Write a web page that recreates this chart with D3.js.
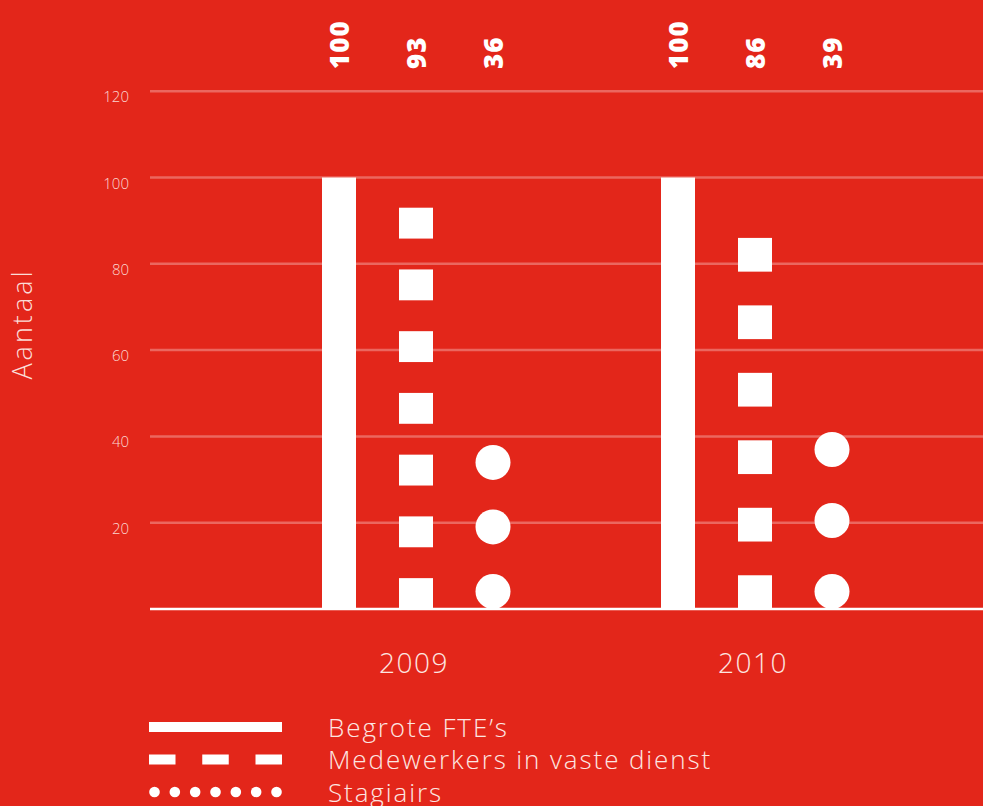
<!DOCTYPE html>
<html>
<head>
<meta charset="utf-8">
<script src="https://cdn.jsdelivr.net/npm/d3@7"></script>
<style>
  html, body { margin: 0; padding: 0; background: #e3261a; }
  svg { display: block; font-family: "Open Sans", Lato, sans-serif; }
</style>
</head>
<body>
<svg id="chart" width="983" height="806"></svg>
<script>
// data
const years = ["2009", "2010"];
const seriesNames = ["Begrote FTE’s", "Medewerkers in vaste dienst", "Stagiairs"];
const begroteFte = [100, 100];
const vasteDienst = [93, 86];
const stagiairs = [36, 39];
const yTicks = [20, 40, 60, 80, 100, 120];

const W = 983, H = 806;
const red = "#e3261a";
const svg = d3.select("#chart");

svg.append("rect").attr("width", W).attr("height", H).attr("fill", red);

const y = d3.scaleLinear().domain([0, 120]).range([609, 91.2]);
const x0 = d3.scaleBand().domain(years).range([246.5, 924.5]);
const x1 = d3.scalePoint().domain(seriesNames).range([-77, 77]);
const cx = (yr, s) => x0(yr) + x0.bandwidth() / 2 + x1(s);

// gridlines + tick labels
const grid = svg.append("g");
grid.selectAll("line")
  .data(yTicks)
  .join("line")
  .attr("x1", 150).attr("x2", W)
  .attr("y1", d => y(d)).attr("y2", d => y(d))
  .attr("stroke", "#ffffff").attr("stroke-opacity", 0.3)
  .attr("stroke-width", 2.5);

grid.selectAll("text")
  .data(yTicks)
  .join("text")
  .attr("x", 129)
  .attr("y", d => y(d) + 11)
  .attr("text-anchor", "end")
  .attr("fill", "#fbd6d0")
  .attr("font-size", 15)
  .attr("font-weight", 300)
  .text(d => d);

// axis title
svg.append("text")
  .attr("transform", "translate(32,324) rotate(-90)")
  .attr("text-anchor", "middle")
  .attr("fill", "#fbdcd7")
  .attr("font-size", 27)
  .attr("font-weight", 300)
  .attr("letter-spacing", 3)
  .text("Aantaal");

const rows = years.map((yr, i) => ({
  year: yr, fte: begroteFte[i], vast: vasteDienst[i], stag: stagiairs[i]
}));

const groups = svg.selectAll("g.year")
  .data(rows)
  .join("g")
  .attr("class", "year");

// solid bar
const barW = 34;
groups.append("rect")
  .attr("x", d => cx(d.year, seriesNames[0]) - barW / 2)
  .attr("y", d => y(d.fte))
  .attr("width", barW)
  .attr("height", d => y(0) - y(d.fte))
  .attr("fill", "#fff");

// squares: dash = gap, fitted into the bar height
groups.each(function(d) {
  const len = y(0) - y(d.vast);
  const n = Math.round((len / 31 + 1) / 2);
  const seg = len / (2 * n - 1);
  d3.select(this).selectAll("rect.sq")
    .data(d3.range(n))
    .join("rect")
    .attr("class", "sq")
    .attr("x", cx(d.year, seriesNames[1]) - barW / 2)
    .attr("y", i => y(0) - i * 2 * seg - seg)
    .attr("width", barW)
    .attr("height", seg)
    .attr("fill", "#fff");
});

// dots
const r = 17.5;
groups.each(function(d) {
  const len = y(0) - y(d.stag);
  const n = Math.max(1, Math.round(len / 55));
  const bottom = y(0) - r;
  const top = y(d.stag) + r / 2;
  const step = n > 1 ? (bottom - top) / (n - 1) : 0;
  d3.select(this).selectAll("circle")
    .data(d3.range(n))
    .join("circle")
    .attr("cx", cx(d.year, seriesNames[2]))
    .attr("cy", i => bottom - i * step)
    .attr("r", r)
    .attr("fill", "#fff");
});

// value labels on top
groups.each(function(d) {
  const vals = [d.fte, d.vast, d.stag];
  d3.select(this).selectAll("text.val")
    .data(vals)
    .join("text")
    .attr("class", "val")
    .attr("transform", (v, i) => `translate(${cx(d.year, seriesNames[i]) + 9.5},69) rotate(-90)`)
    .attr("fill", "#fff")
    .attr("font-size", 26)
    .attr("font-weight", 800)
    .attr("letter-spacing", 1)
    .text(v => v);
});

// baseline
svg.append("line")
  .attr("x1", 150).attr("x2", W)
  .attr("y1", y(0)).attr("y2", y(0))
  .attr("stroke", "#fff").attr("stroke-width", 2.5);

// year labels
svg.selectAll("text.yr")
  .data(years)
  .join("text")
  .attr("class", "yr")
  .attr("x", d => x0(d) + x0.bandwidth() / 2 - 2)
  .attr("y", 673)
  .attr("text-anchor", "middle")
  .attr("fill", "#fde6e2")
  .attr("font-size", 28)
  .attr("font-weight", 300)
  .attr("letter-spacing", 1.5)
  .text(d => d);

// legend
const legend = svg.append("g").attr("transform", "translate(149,727)");
const legRow = 32.5;
const symW = 133;

legend.append("line")
  .attr("x1", 0).attr("x2", symW).attr("y1", 0).attr("y2", 0)
  .attr("stroke", "#fff").attr("stroke-width", 10);

legend.append("line")
  .attr("x1", 0).attr("x2", symW).attr("y1", legRow).attr("y2", legRow)
  .attr("stroke", "#fff").attr("stroke-width", 10)
  .attr("stroke-dasharray", "26.5 26.75");

legend.selectAll("circle")
  .data(d3.range(7))
  .join("circle")
  .attr("cx", i => 5.5 + i * (symW - 11) / 6)
  .attr("cy", legRow * 2)
  .attr("r", 5.3)
  .attr("fill", "#fff");

legend.selectAll("text")
  .data(seriesNames)
  .join("text")
  .attr("x", 179)
  .attr("y", (d, i) => i * legRow + 9.5)
  .attr("fill", "#fde6e2")
  .attr("font-size", 26)
  .attr("font-weight", 300)
  .attr("letter-spacing", 1.9)
  .text(d => d);
</script>
</body>
</html>
